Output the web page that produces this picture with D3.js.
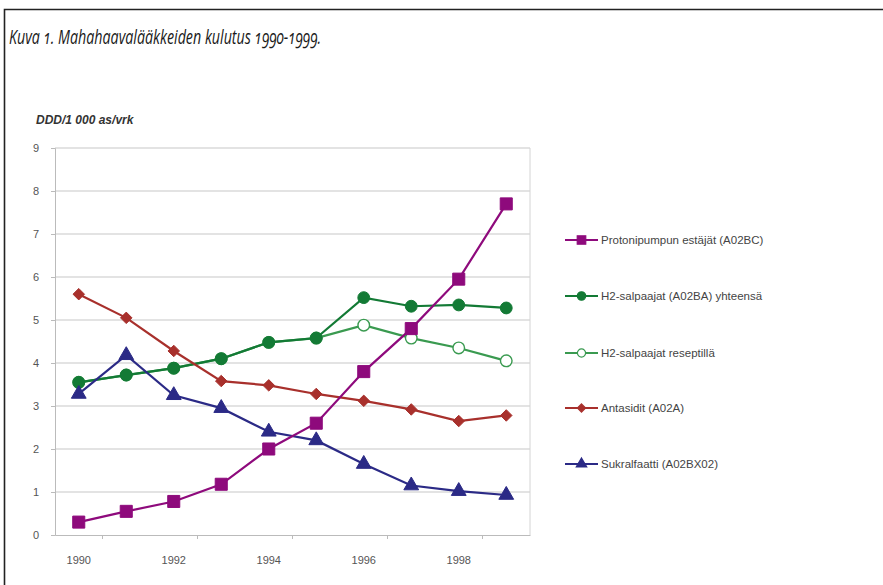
<!DOCTYPE html>
<html>
<head>
<meta charset="utf-8">
<script src="https://cdn.jsdelivr.net/npm/d3@7"></script>
<style>
  html, body { margin: 0; background: #fff; overflow: hidden; }
  svg { display: block; }
  .title { font-family: "Open Sans", sans-serif; font-style: italic; font-size: 20px; fill: #1a1a1a; font-variant-numeric: oldstyle-nums; }
  .axis text { font-family: "Liberation Sans", Arial, sans-serif; font-size: 11px; fill: #555; }
  .legend text { font-family: "Liberation Sans", Arial, sans-serif; font-size: 11.5px; fill: #444; }
  .ytitle { font-family: "Liberation Sans", Arial, sans-serif; font-size: 12px; font-style: italic; font-weight: bold; fill: #333; }
</style>
</head>
<body>
<div id="chart"></div>
<script>
var years = [1990, 1991, 1992, 1993, 1994, 1995, 1996, 1997, 1998, 1999];
var yTicks = [0, 1, 2, 3, 4, 5, 6, 7, 8, 9];

var protonipumppu = [0.3, 0.55, 0.78, 1.18, 2.0, 2.6, 3.8, 4.8, 5.95, 7.7];
var h2Yhteensa = [3.55, 3.72, 3.88, 4.1, 4.48, 4.58, 5.52, 5.32, 5.35, 5.28];
var h2Resepti = [3.55, 3.72, 3.88, 4.1, 4.48, 4.58, 4.88, 4.58, 4.35, 4.05];
var antasidit = [5.6, 5.05, 4.28, 3.58, 3.48, 3.28, 3.12, 2.92, 2.65, 2.78];
var sukralfaatti = [3.28, 4.18, 3.25, 2.95, 2.4, 2.2, 1.65, 1.15, 1.02, 0.93];

var seriesNames = ["Protonipumpun estäjät (A02BC)", "H2-salpaajat (A02BA) yhteensä",
  "H2-salpaajat reseptillä", "Antasidit (A02A)", "Sukralfaatti (A02BX02)"];

// diamond as a rotated square, wider than d3's own
var wideDiamond = {
  draw: function(context, size) {
    var r = Math.sqrt(size / 2);
    context.moveTo(0, -r);
    context.lineTo(r, 0);
    context.lineTo(0, r);
    context.lineTo(-r, 0);
    context.closePath();
  }
};

var series = [
  { name: seriesNames[0], values: protonipumppu, color: "#8e0a7c", symbol: d3.symbolSquare, fill: true, size: 145, order: 4 },
  { name: seriesNames[1], values: h2Yhteensa, color: "#137a35", symbol: d3.symbolCircle, fill: true, size: 110, order: 1 },
  { name: seriesNames[2], values: h2Resepti, color: "#3a9a50", symbol: d3.symbolCircle, fill: false, size: 105, order: 0 },
  { name: seriesNames[3], values: antasidit, color: "#a8302c", symbol: wideDiamond, fill: true, size: 66, order: 2 },
  { name: seriesNames[4], values: sukralfaatti, color: "#2b2a86", symbol: d3.symbolTriangle, fill: true, size: 95, order: 3 }
];

var width = 883, height = 585;
var svg = d3.select("#chart").append("svg")
  .attr("width", width).attr("height", height);

// frame
svg.append("path")
  .attr("d", "M4.5," + height + "V9.5H" + width)
  .attr("fill", "none").attr("stroke", "#222").attr("stroke-width", 1.6);

svg.append("text").attr("class", "title")
  .attr("x", 9).attr("y", 44)
  .attr("textLength", 312).attr("lengthAdjust", "spacingAndGlyphs")
  .text("Kuva 1. Mahahaavalääkkeiden kulutus 1990-1999.");

var plot = { left: 55, right: 530, top: 148, bottom: 535 };

var x = d3.scaleBand().domain(years).range([plot.left, plot.right]);
var y = d3.scaleLinear().domain([0, 9]).range([plot.bottom, plot.top]);

var g = svg.append("g");

// gridlines
g.selectAll(".grid").data(yTicks.slice(1)).enter().append("line")
  .attr("x1", plot.left).attr("x2", plot.right)
  .attr("y1", function(d) { return y(d); }).attr("y2", function(d) { return y(d); })
  .attr("stroke", "#c8c8c8").attr("stroke-width", 1.2);

// plot border right
g.append("line").attr("x1", plot.right).attr("x2", plot.right)
  .attr("y1", plot.top).attr("y2", plot.bottom)
  .attr("stroke", "#d4d4d4").attr("stroke-width", 1);

var yAxis = d3.axisLeft(y).tickValues(yTicks).tickSize(4).tickPadding(12);
g.append("g").attr("class", "axis")
  .attr("transform", "translate(" + plot.left + ",0)")
  .call(yAxis)
  .call(function(a) {
    a.selectAll("path, line").attr("stroke", "#bbb");
  });

var xAxis = d3.axisBottom(x)
  .tickValues(years.filter(function(d, i) { return i % 2 === 0; }))
  .tickSize(0).tickPadding(21);
g.append("g").attr("class", "axis")
  .attr("transform", "translate(0," + plot.bottom + ")")
  .call(xAxis)
  .call(function(a) {
    a.select(".domain").attr("stroke", "#bbb");
  });

// x tick marks at band boundaries
g.selectAll(".xtick").data(years.filter(function(d, i) { return i % 2 === 1; })).enter().append("line")
  .attr("x1", function(d) { return x(d); }).attr("x2", function(d) { return x(d); })
  .attr("y1", plot.bottom).attr("y2", plot.bottom + 4)
  .attr("stroke", "#bbb");

svg.append("text").attr("class", "ytitle")
  .attr("x", 36).attr("y", 124)
  .text("DDD/1 000 as/vrk");

var line = d3.line()
  .x(function(d, i) { return x(years[i]) + x.bandwidth() / 2; })
  .y(function(d) { return y(d); });

var drawOrder = series.slice().sort(function(a, b) { return a.order - b.order; });

drawOrder.forEach(function(s) {
  g.append("path")
    .attr("d", line(s.values))
    .attr("fill", "none")
    .attr("stroke", s.color)
    .attr("stroke-width", 2.2);

  var sym = d3.symbol().type(s.symbol).size(s.size);
  g.selectAll(null).data(s.values).enter().append("path")
    .attr("d", sym)
    .attr("transform", function(d, i) {
      return "translate(" + (x(years[i]) + x.bandwidth() / 2) + "," + y(d) + ")";
    })
    .attr("fill", s.fill ? s.color : "#fff")
    .attr("stroke", s.color)
    .attr("stroke-width", s.fill ? 1 : 1.4);
});

// legend
var legendY = [240, 296, 353, 408, 464];
var legend = svg.append("g").attr("class", "legend");
series.forEach(function(s, i) {
  var lg = legend.append("g").attr("transform", "translate(565," + legendY[i] + ")");
  lg.append("line").attr("x1", 0).attr("x2", 33).attr("y1", 0).attr("y2", 0)
    .attr("stroke", s.color).attr("stroke-width", 2.2);
  lg.append("path")
    .attr("d", d3.symbol().type(s.symbol).size(s.size * 0.5))
    .attr("transform", "translate(16.5,0)")
    .attr("fill", s.fill ? s.color : "#fff")
    .attr("stroke", s.color).attr("stroke-width", 1.2);
  lg.append("text").attr("x", 36).attr("y", 4).text(s.name);
});
</script>
</body>
</html>
